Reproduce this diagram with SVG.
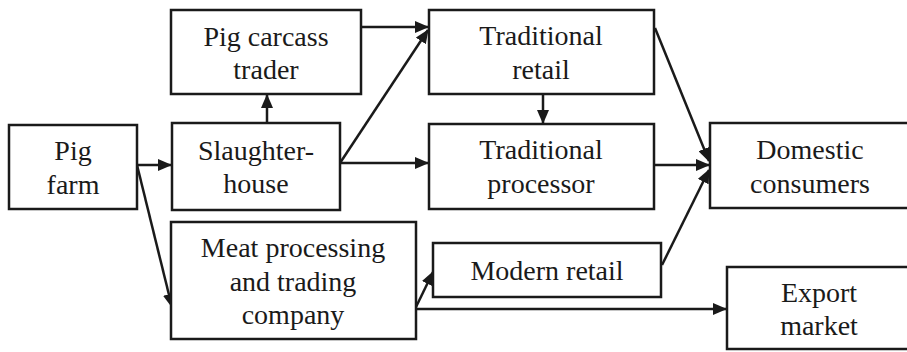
<svg xmlns="http://www.w3.org/2000/svg" width="907" height="352" viewBox="0 0 907 352">
<style>
.box{fill:#fff;stroke:#1a1a1a;stroke-width:2.5}
.lbl{font-size:28px;fill:#1a1a1a;text-anchor:middle}
.con{fill:none;stroke:#1a1a1a;stroke-width:2.5;marker-end:url(#ah)}
</style>
<defs>
<marker id="ah" markerUnits="userSpaceOnUse" markerWidth="14" markerHeight="12" refX="13" refY="6" orient="auto">
<path d="M0,0 L14,6 L0,12 z" fill="#1a1a1a"/>
</marker>
</defs>
<rect width="907" height="352" fill="#fff"/>
<g id="connectors">
<path class="con" d="M137,165 L171,165"/>
<path class="con" d="M137,165 L172,307"/>
<path class="con" d="M267,123 L267,95"/>
<path class="con" d="M361,27 L428,27"/>
<path class="con" d="M340,163 L428,30"/>
<path class="con" d="M340,163 L428,163"/>
<path class="con" d="M543,94 L543,123"/>
<path class="con" d="M655,28 L709,161"/>
<path class="con" d="M654,165 L709,165"/>
<path class="con" d="M662,265 L709,170"/>
<path class="con" d="M416,307 L433,272"/>
<path class="con" d="M416,309 L726,309"/>
</g>
<g font-family="Liberation Serif, DejaVu Serif, serif">
<g id="pig-farm">
<rect class="box" x="9" y="125" width="128" height="84"/>
<text class="lbl" x="73" y="160">Pig</text>
<text class="lbl" x="73" y="194">farm</text>
</g>
<g id="pig-carcass-trader">
<rect class="box" x="171" y="10" width="190" height="84"/>
<text class="lbl" x="266" y="46">Pig carcass</text>
<text class="lbl" x="266" y="79">trader</text>
</g>
<g id="slaughterhouse">
<rect class="box" x="172" y="123" width="168" height="87"/>
<text class="lbl" x="256" y="160">Slaughter-</text>
<text class="lbl" x="256" y="193">house</text>
</g>
<g id="meat-processing">
<rect class="box" x="171" y="222" width="245" height="117"/>
<text class="lbl" x="293" y="257">Meat processing</text>
<text class="lbl" x="293" y="291">and trading</text>
<text class="lbl" x="293" y="324">company</text>
</g>
<g id="traditional-retail">
<rect class="box" x="429" y="10" width="225" height="84"/>
<text class="lbl" x="541" y="45">Traditional</text>
<text class="lbl" x="541" y="79">retail</text>
</g>
<g id="traditional-processor">
<rect class="box" x="429" y="124" width="225" height="85"/>
<text class="lbl" x="541" y="159">Traditional</text>
<text class="lbl" x="541" y="193">processor</text>
</g>
<g id="modern-retail">
<rect class="box" x="433" y="243" width="228" height="54"/>
<text class="lbl" x="547" y="280">Modern retail</text>
</g>
<g id="domestic-consumers">
<rect class="box" x="710" y="123" width="202" height="85"/>
<text class="lbl" x="810" y="159">Domestic</text>
<text class="lbl" x="810" y="193">consumers</text>
</g>
<g id="export-market">
<rect class="box" x="727" y="267" width="185" height="82"/>
<text class="lbl" x="819" y="302">Export</text>
<text class="lbl" x="819" y="335">market</text>
</g>
</g>
</svg>
